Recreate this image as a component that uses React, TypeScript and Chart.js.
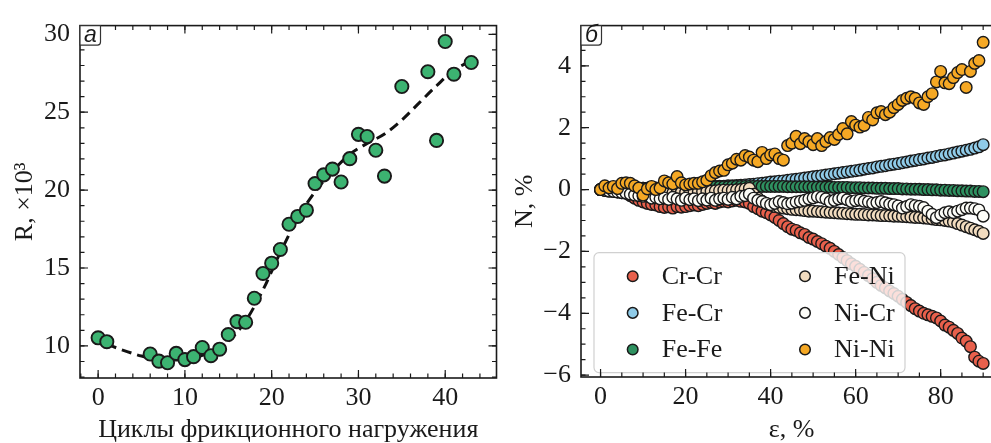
import React, { useEffect, useRef } from "react";
import { Chart, registerables } from "chart.js";

Chart.register(...registerables);

// ---------- Panel (a): resistance vs friction cycles ----------
const cycles = [0, 1, 6, 7, 8, 9, 10, 11, 12, 13, 14, 15, 16, 17, 18, 19, 20, 21, 22, 23, 24, 25, 26, 27, 28, 29, 30, 31, 32, 33, 35, 38, 39, 40, 41, 43];
const rValues = [10.52, 10.27, 9.48, 9.02, 8.92, 9.52, 9.12, 9.31, 9.9, 9.37, 9.79, 10.73, 11.56, 11.52, 13.06, 14.65, 15.31, 16.19, 17.81, 18.31, 18.71, 20.42, 20.98, 21.35, 20.52, 22.02, 23.58, 23.44, 22.56, 20.9, 26.65, 27.6, 23.19, 29.54, 27.44, 28.19];
const fitCycles = [1, 3, 5, 7, 9, 11, 13, 15, 17, 19, 21, 23, 25, 27, 29, 31, 33, 35, 37, 39, 41, 43];
const fitValues = [10.1, 9.7, 9.35, 9.15, 9.1, 9.25, 9.6, 10.3, 11.6, 13.6, 16.0, 18.2, 19.9, 21.2, 22.3, 23.0, 23.6, 24.5, 25.6, 26.7, 27.7, 28.3];

// ---------- Panel (б): bond fractions vs strain ----------
const strain = [
  0, 1, 2, 3, 4, 5, 6, 7, 8, 9, 10, 11, 12, 13, 14, 15, 16, 17, 18, 19,
  20, 21, 22, 23, 24, 25, 26, 27, 28, 29, 30, 31, 32, 33, 34, 35, 36, 37, 38, 39,
  40, 41, 42, 43, 44, 45, 46, 47, 48, 49, 50, 51, 52, 53, 54, 55, 56, 57, 58, 59,
  60, 61, 62, 63, 64, 65, 66, 67, 68, 69, 70, 71, 72, 73, 74, 75, 76, 77, 78, 79,
  80, 81, 82, 83, 84, 85, 86, 87, 88, 89, 90,
];
const crCr = [
  0, -0.02, -0.05, -0.05, -0.08, -0.1, -0.12, -0.2, -0.28, -0.35,
  -0.4, -0.45, -0.48, -0.5, -0.55, -0.58, -0.56, -0.6, -0.55, -0.57,
  -0.55, -0.52, -0.5, -0.52, -0.48, -0.45, -0.42, -0.45, -0.4, -0.38,
  -0.4, -0.37, -0.35, -0.38, -0.4, -0.45, -0.55, -0.62, -0.7, -0.75,
  -0.82, -0.9, -1.0, -1.1, -1.2, -1.28, -1.32, -1.4, -1.45, -1.55,
  -1.6, -1.68, -1.75, -1.83, -1.9, -2.0, -2.1, -2.2, -2.3, -2.4,
  -2.48, -2.58, -2.68, -2.78, -2.88, -3.0, -3.1, -3.18, -3.28, -3.36,
  -3.45, -3.55, -3.65, -3.75, -3.85, -3.93, -4.0, -4.05, -4.1, -4.15,
  -4.25, -4.38, -4.45, -4.55, -4.65, -4.8, -4.9, -5.08, -5.42, -5.55, -5.62,
];
const feCr = [
  0, 0.01, 0.02, 0.0, 0.02, 0.03, 0.02, 0.03, 0.04, 0.03,
  0.04, 0.04, 0.05, 0.04, 0.05, 0.06, 0.05, 0.06, 0.07, 0.06,
  0.07, 0.07, 0.08, 0.08, 0.09, 0.09, 0.1, 0.1, 0.11, 0.11,
  0.12, 0.12, 0.13, 0.14, 0.15, 0.16, 0.17, 0.19, 0.2, 0.22,
  0.24, 0.25, 0.27, 0.28, 0.3, 0.32, 0.33, 0.35, 0.37, 0.39,
  0.41, 0.43, 0.45, 0.47, 0.49, 0.51, 0.53, 0.55, 0.57, 0.59,
  0.61, 0.63, 0.66, 0.68, 0.7, 0.73, 0.75, 0.77, 0.8, 0.82,
  0.84, 0.87, 0.89, 0.92, 0.94, 0.97, 0.99, 1.02, 1.04, 1.07,
  1.1, 1.12, 1.15, 1.18, 1.21, 1.24, 1.27, 1.3, 1.34, 1.38, 1.45,
];
const feFe = [
  0, 0.0, 0.01, 0.02, 0.01, 0.02, 0.03, 0.03, 0.04, 0.03,
  0.04, 0.04, 0.05, 0.05, 0.05, 0.06, 0.06, 0.06, 0.07, 0.07,
  0.07, 0.07, 0.08, 0.08, 0.08, 0.08, 0.09, 0.09, 0.09, 0.09,
  0.09, 0.1, 0.1, 0.1, 0.1, 0.1, 0.1, 0.1, 0.1, 0.1,
  0.1, 0.1, 0.1, 0.1, 0.09, 0.09, 0.09, 0.09, 0.09, 0.09,
  0.08, 0.08, 0.08, 0.08, 0.08, 0.07, 0.07, 0.07, 0.07, 0.06,
  0.06, 0.06, 0.05, 0.05, 0.05, 0.04, 0.04, 0.04, 0.03, 0.03,
  0.03, 0.02, 0.02, 0.01, 0.01, 0.01, 0.0, 0.0, -0.01, -0.01,
  -0.02, -0.02, -0.03, -0.03, -0.04, -0.04, -0.05, -0.05, -0.06, -0.06, -0.07,
];
const feNi = [
  0, -0.02, -0.04, -0.05, -0.07, -0.08, -0.1, -0.1, -0.12, -0.12,
  -0.13, -0.12, -0.14, -0.13, -0.12, -0.12, -0.1, -0.11, -0.1, -0.09,
  -0.09, -0.08, -0.08, -0.07, -0.06, -0.06, -0.05, -0.04, -0.03, -0.02,
  -0.03, -0.02, -0.01, 0.0, 0.02, 0.04, -0.15, -0.28, -0.38, -0.45,
  -0.5, -0.55, -0.58, -0.6, -0.62, -0.64, -0.65, -0.66, -0.68, -0.7,
  -0.7, -0.71, -0.72, -0.73, -0.74, -0.75, -0.76, -0.77, -0.78, -0.79,
  -0.8, -0.8, -0.81, -0.82, -0.82, -0.83, -0.84, -0.84, -0.85, -0.86,
  -0.86, -0.87, -0.88, -0.89, -0.9, -0.9, -0.92, -0.93, -0.95, -0.97,
  -0.98, -1.0, -1.02, -1.05, -1.1, -1.15, -1.2, -1.25, -1.3, -1.35, -1.42,
];
const niCr = [
  0, -0.03, -0.05, -0.06, -0.08, -0.1, -0.12, -0.15, -0.18, -0.2,
  -0.22, -0.2, -0.28, -0.25, -0.3, -0.27, -0.32, -0.25, -0.3, -0.35,
  -0.28, -0.33, -0.3, -0.36, -0.3, -0.34, -0.28, -0.35, -0.3, -0.28,
  -0.32, -0.25, -0.3, -0.22, -0.2, -0.15, -0.28, -0.35, -0.39, -0.45,
  -0.49, -0.45, -0.39, -0.42, -0.46, -0.44, -0.4, -0.38, -0.35, -0.3,
  -0.27, -0.23, -0.25, -0.3, -0.39, -0.35, -0.3, -0.28, -0.33, -0.39,
  -0.36, -0.34, -0.38, -0.4, -0.44, -0.42, -0.39, -0.43, -0.47, -0.49,
  -0.53, -0.6, -0.55, -0.49, -0.52, -0.54, -0.58, -0.7, -0.8, -0.91,
  -0.82, -0.75, -0.72, -0.75, -0.7, -0.65, -0.6, -0.6, -0.62, -0.66, -0.86,
];
const niNi = [
  0, 0.12, 0.05, 0.1, 0.03, 0.2, 0.22, 0.2, 0.12, 0.05,
  -0.18, 0.02, 0.1, 0.0, 0.05, 0.28, 0.22, 0.18, 0.42, 0.22,
  0.15, 0.18, 0.2, 0.2, 0.25, 0.3, 0.45, 0.55, 0.6, 0.62,
  0.8, 0.85, 0.98, 0.95, 1.1, 1.05, 0.95, 0.9, 1.2, 1.0,
  1.12, 1.15, 1.0, 0.95, 1.42, 1.5, 1.72, 1.48, 1.65, 1.55,
  1.45, 1.65, 1.42, 1.55, 1.68, 1.62, 1.78, 1.97, 1.8, 2.2,
  2.08, 2.02, 2.07, 2.33, 2.25, 2.48, 2.52, 2.42, 2.5, 2.65,
  2.75, 2.88, 2.95, 3.0, 2.95, 2.8, 2.75, 3.0, 3.1, 3.48,
  3.82, 3.45, 3.42, 3.62, 3.78, 3.88, 3.3, 3.82, 4.08, 4.17, 4.76,
];
const bondLabels = ["Cr-Cr", "Fe-Cr", "Fe-Fe", "Fe-Ni", "Ni-Cr", "Ni-Ni"];
const bondSeries = [crCr, feCr, feFe, feNi, niCr, niNi];
const bondColors = ["#e8604c", "#8fcbe8", "#2e9160", "#f2dcbf", "#fdfdf8", "#f5a824"];

const SERIF = "Liberation Serif";
const INK = "#1a1a1a";
const FONT_PX = 26;

Chart.defaults.font.family = SERIF;
Chart.defaults.font.size = FONT_PX;
Chart.defaults.color = INK;

const fmtTick = (v: number) => (v < 0 ? "\u2212" + Math.abs(v) : String(v));

const framePlugin = {
  id: "frame",
  afterDraw(chart: any, _args: any, opts: any) {
    const { ctx, chartArea: a } = chart;
    const xs = chart.scales.x;
    const ys = chart.scales.y;
    ctx.save();
    ctx.strokeStyle = INK;
    ctx.lineWidth = 1.2;
    const tickSet = (scale: any, step: number, len: number, horizontal: boolean) => {
      const start = Math.ceil(scale.min / step - 1e-9);
      for (let k = start; k * step <= scale.max + 1e-9; k++) {
        const p = scale.getPixelForValue(k * step);
        ctx.beginPath();
        if (horizontal) {
          ctx.moveTo(p, a.bottom);
          ctx.lineTo(p, a.bottom - len);
          ctx.moveTo(p, a.top);
          ctx.lineTo(p, a.top + len);
        } else {
          ctx.moveTo(a.left, p);
          ctx.lineTo(a.left + len, p);
          ctx.moveTo(a.right, p);
          ctx.lineTo(a.right - len, p);
        }
        ctx.stroke();
      }
    };
    tickSet(xs, opts.xMinor, 4.5, true);
    tickSet(xs, opts.xMajor, 8, true);
    tickSet(ys, opts.yMinor, 4.5, false);
    tickSet(ys, opts.yMajor, 8, false);
    ctx.lineWidth = 1.6;
    ctx.strokeRect(a.left, a.top, a.right - a.left, a.bottom - a.top);

    // panel letter box
    ctx.beginPath();
    ctx.roundRect(a.left, a.top, 20.5, 19.5, [0, 0, 3, 0]);
    ctx.fillStyle = "#ffffff";
    ctx.fill();
    ctx.lineWidth = 1.2;
    ctx.strokeStyle = "#333";
    ctx.stroke();
    ctx.fillStyle = INK;
    ctx.font = "italic 23px 'Liberation Sans', Arial, sans-serif";
    ctx.textAlign = "center";
    ctx.textBaseline = "alphabetic";
    ctx.fillText(opts.letter, a.left + 10.5, a.top + 16.5);

    // axis titles
    ctx.font = `${FONT_PX}px '${SERIF}', serif`;
    ctx.fillText(opts.xTitle, (a.left + a.right) / 2, opts.xTitleBaseline);
    ctx.translate(opts.yTitleBaseline, (a.top + a.bottom) / 2);
    ctx.rotate(-Math.PI / 2);
    ctx.fillText(opts.yTitle, 0, 0);
    ctx.restore();
  },
};

const insetLegendPlugin = {
  id: "insetLegend",
  afterDatasetsDraw(chart: any, _args: any, opts: any) {
    const { ctx, chartArea: a } = chart;
    const x0 = a.left + opts.dx;
    const y0 = a.top + opts.dy;
    ctx.save();
    ctx.beginPath();
    ctx.roundRect(x0, y0, opts.w, opts.h, 5);
    ctx.fillStyle = "rgba(255,255,255,0.8)";
    ctx.fill();
    ctx.strokeStyle = "#d0d0d0";
    ctx.lineWidth = 1.2;
    ctx.stroke();
    ctx.font = `${FONT_PX}px '${SERIF}', serif`;
    ctx.textAlign = "left";
    ctx.textBaseline = "middle";
    chart.data.datasets.forEach((ds: any, i: number) => {
      const col = Math.floor(i / 3);
      const row = i % 3;
      const mx = x0 + 38.7 + col * 172.3;
      const my = y0 + 23.7 + row * 36.6;
      ctx.beginPath();
      ctx.arc(mx, my, 5.3, 0, Math.PI * 2);
      ctx.fillStyle = ds.backgroundColor;
      ctx.fill();
      ctx.lineWidth = 1.5;
      ctx.strokeStyle = INK;
      ctx.stroke();
      ctx.fillStyle = INK;
      ctx.fillText(ds.label, mx + 29, my + 1);
    });
    ctx.restore();
  },
};

const tickFont = { family: SERIF, size: FONT_PX };

export default function App() {
  const leftRef = useRef<HTMLCanvasElement>(null);
  const rightRef = useRef<HTMLCanvasElement>(null);

  useEffect(() => {
    const left = new Chart(leftRef.current as HTMLCanvasElement, {
      type: "scatter",
      data: {
        datasets: [
          {
            label: "R",
            data: cycles.map((c, i) => ({ x: c, y: rValues[i] })),
            backgroundColor: "#3cb371",
            borderColor: INK,
            borderWidth: 1.9,
            pointRadius: 6.6,
            showLine: false,
            order: 1,
          },
          {
            label: "fit",
            data: fitCycles.map((c, i) => ({ x: c, y: fitValues[i] })),
            showLine: true,
            borderColor: "#111",
            borderWidth: 3,
            borderDash: [10, 6],
            pointRadius: 0,
            cubicInterpolationMode: "monotone",
            order: 2,
          } as any,
        ],
      },
      options: {
        animation: false,
        responsive: false,
        layout: { padding: { top: 16, right: 5, left: 0, bottom: 0 } },
        plugins: {
          legend: { display: false },
          tooltip: { enabled: false },
          frame: {
            xMajor: 10, xMinor: 2, yMajor: 5, yMinor: 1,
            letter: "а",
            xTitle: "Циклы фрикционного нагружения",
            yTitle: "R, ×10³",
            xTitleBaseline: 437,
            yTitleBaseline: 32,
          },
        } as any,
        scales: {
          x: {
            type: "linear",
            min: -2.09,
            max: 45.91,
            grid: { display: false, drawTicks: false },
            border: { display: false },
            ticks: { stepSize: 10, includeBounds: false, padding: 5, color: INK, font: tickFont, callback: (v: any) => fmtTick(v) },
            afterFit: (s: any) => { s.height = 65; },
          },
          y: {
            type: "linear",
            min: 7.94,
            max: 30.56,
            grid: { display: false, drawTicks: false },
            border: { display: false },
            ticks: { stepSize: 5, includeBounds: false, padding: 10, color: INK, font: tickFont, callback: (v: any) => fmtTick(v) },
            afterFit: (s: any) => { s.width = 80; },
          },
        },
      },
      plugins: [framePlugin],
    });

    const right = new Chart(rightRef.current as HTMLCanvasElement, {
      type: "scatter",
      data: {
        datasets: bondSeries.map((series, k) => ({
          label: bondLabels[k],
          data: strain.map((e, i) => ({ x: e, y: series[i] })),
          backgroundColor: bondColors[k],
          borderColor: INK,
          borderWidth: 1.4,
          pointRadius: 5.8,
          showLine: false,
          order: bondSeries.length - k,
        })),
      },
      options: {
        animation: false,
        responsive: false,
        layout: { padding: { top: 16, right: 12.7, left: 0, bottom: 0 } },
        plugins: {
          legend: { display: false },
          tooltip: { enabled: false },
          insetLegend: { dx: 13, dy: 227, w: 311, h: 120 },
          frame: {
            xMajor: 20, xMinor: 5, yMajor: 2, yMinor: 0.5,
            letter: "б",
            xTitle: "ε, %",
            yTitle: "N, %",
            xTitleBaseline: 437,
            yTitleBaseline: 37,
          },
        } as any,
        scales: {
          x: {
            type: "linear",
            min: -4.6,
            max: 94.5,
            grid: { display: false, drawTicks: false },
            border: { display: false },
            ticks: { stepSize: 20, includeBounds: false, padding: 5, color: INK, font: tickFont, callback: (v: any) => fmtTick(v) },
            afterFit: (s: any) => { s.height = 66; },
          },
          y: {
            type: "linear",
            min: -6.06,
            max: 5.3,
            grid: { display: false, drawTicks: false },
            border: { display: false },
            ticks: { stepSize: 2, includeBounds: false, padding: 10, color: INK, font: tickFont, callback: (v: any) => fmtTick(v) },
            afterFit: (s: any) => { s.width = 86; },
          },
        },
      },
      plugins: [insetLegendPlugin, framePlugin],
    });

    return () => {
      left.destroy();
      right.destroy();
    };
  }, []);

  return (
    <div style={{ position: "absolute", left: 0, top: 0, width: 991, height: 443, overflow: "hidden", background: "#fff" }}>
      <canvas ref={leftRef} width={505} height={443} style={{ position: "absolute", left: 0, top: 0, width: 505, height: 443 }} />
      <canvas ref={rightRef} width={520} height={443} style={{ position: "absolute", left: 495, top: 0, width: 520, height: 443 }} />
    </div>
  );
}
